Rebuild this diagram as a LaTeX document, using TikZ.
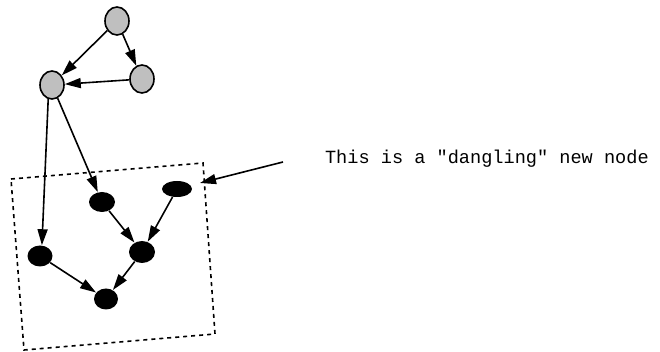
\documentclass[tikz,border=0pt]{standalone}
\usepackage{fontspec}
\setmonofont{Liberation Mono}
\usetikzlibrary{arrows.meta, shapes.geometric}

\begin{document}
\begin{tikzpicture}[x=0.5pt, y=-0.5pt,
    oldnode/.style={ellipse, draw, line width=0.8pt, fill=black!25,
                    minimum width=12pt, minimum height=14pt, inner sep=0pt},
    newnode/.style={ellipse, fill=black, inner sep=0pt},
    link/.style={-{Triangle[length=8pt, width=5pt]}, line width=0.8pt},
]
    \useasboundingbox (0,0) rectangle (660,352);

    % existing graph
    \node[oldnode] (top) at (117,21) {};
    \node[oldnode] (right) at (142,79) {};
    \node[oldnode] (left) at (52,85) {};

    % new part
    \node[newnode, minimum width=13pt, minimum height=10pt] (mid) at (102,202) {};
    \node[newnode, minimum width=15pt, minimum height=8pt] (dangling) at (177,189) {};
    \node[newnode, minimum width=12.5pt, minimum height=10.5pt] (low) at (40,256) {};
    \node[newnode, minimum width=13pt, minimum height=11pt] (join) at (142,252) {};
    \node[newnode, minimum width=12pt, minimum height=10.5pt] (sink) at (106,299) {};

    \draw[link] (top) -- (left);
    \draw[link] (top) -- (right);
    \draw[link] (right) -- (left);
    \draw[link] (left.255) -- (low.80);
    \draw[link] (left) -- (mid);
    \draw[link] (mid) -- (join);
    \draw[link] (dangling) -- (join);
    \draw[link] (low) -- (sink);
    \draw[link] (join) -- (sink);

    % box round the new part
    \draw[dash pattern=on 2pt off 2pt, line width=0.8pt]
        (11,179) -- (203,163) -- (215,334) -- (24,350) -- cycle;

    % note
    \node[font=\ttfamily\fontsize{9.3}{11}\selectfont, anchor=base west] (note) at (318,164)
        {This is a "dangling" new node};
    \coordinate (tail) at (283,162);
    \coordinate (boxedge) at (200,183);
    \draw[link] (tail) -- (boxedge);
\end{tikzpicture}
\end{document}
